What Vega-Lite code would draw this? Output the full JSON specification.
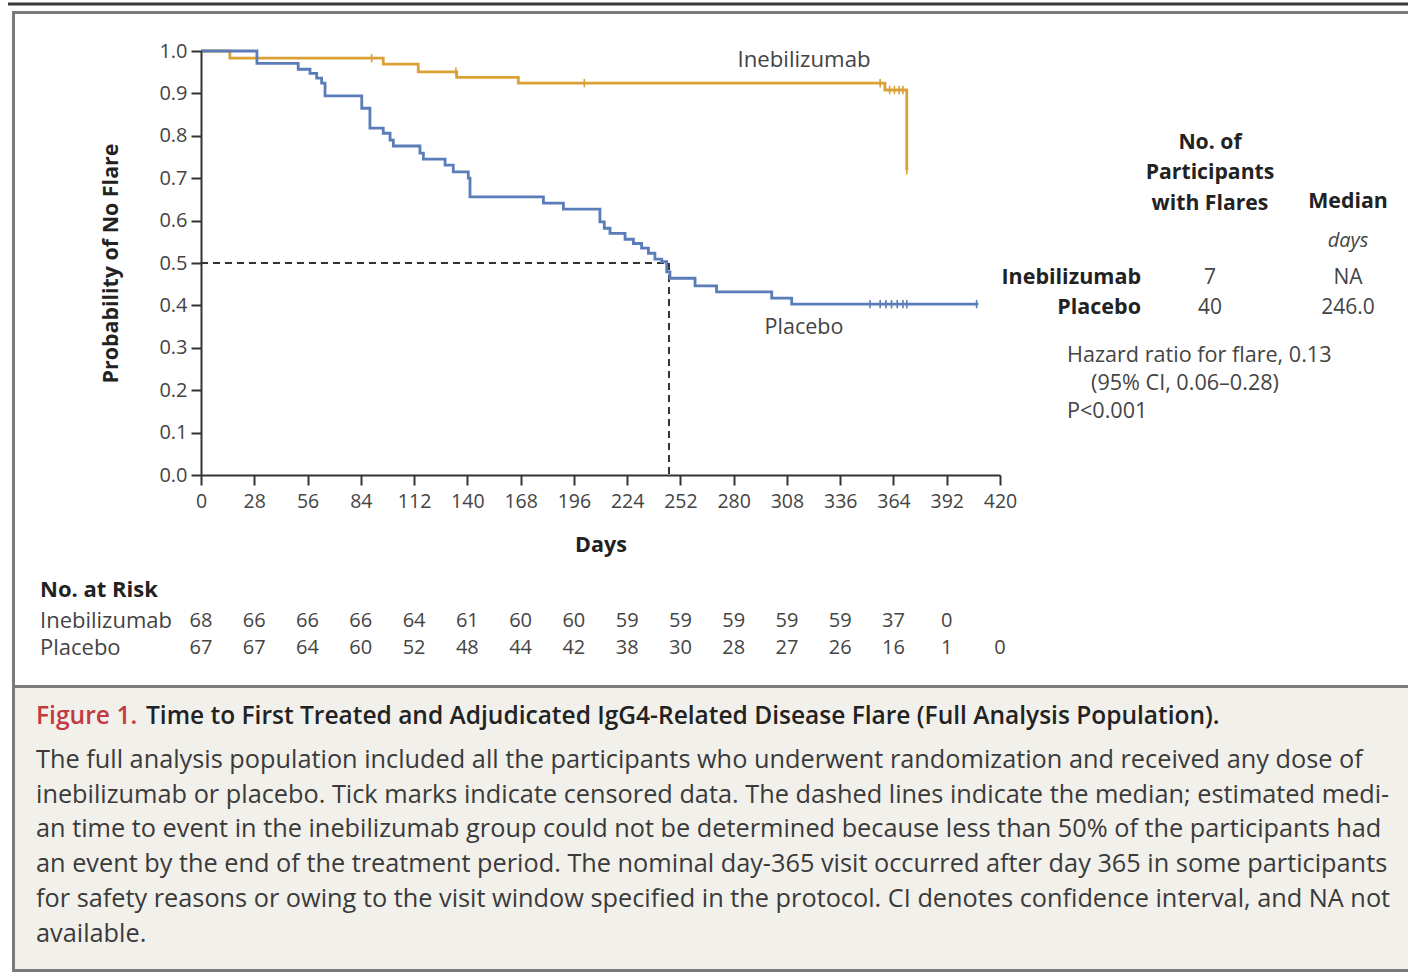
{
  "$schema": "https://vega.github.io/schema/vega-lite/v6.json",
  "width": 799,
  "height": 424,
  "autosize": {"type": "none"},
  "padding": {"left": 201, "top": 51, "right": 408, "bottom": 499},
  "background": "white",
  "config": {
    "view": {"stroke": null},
    "font": "Open Sans",
    "text": {"font": "Open Sans"}
  },
  "resolve": {"axis": {"x": "independent", "y": "independent"}},
  "datasets": {
    "km": [
      {"group": "Inebilizumab", "day": 0, "surv": 1.0},
      {"group": "Inebilizumab", "day": 15.2, "surv": 0.983},
      {"group": "Inebilizumab", "day": 95.8, "surv": 0.969},
      {"group": "Inebilizumab", "day": 114.2, "surv": 0.951},
      {"group": "Inebilizumab", "day": 134.4, "surv": 0.938},
      {"group": "Inebilizumab", "day": 166.8, "surv": 0.924},
      {"group": "Inebilizumab", "day": 359.5, "surv": 0.908},
      {"group": "Inebilizumab", "day": 371, "surv": 0.719},
      {"group": "Placebo", "day": 0, "surv": 1.0},
      {"group": "Placebo", "day": 29.4, "surv": 0.971},
      {"group": "Placebo", "day": 51.1, "surv": 0.957},
      {"group": "Placebo", "day": 57.3, "surv": 0.947},
      {"group": "Placebo", "day": 60.8, "surv": 0.936},
      {"group": "Placebo", "day": 63.4, "surv": 0.924},
      {"group": "Placebo", "day": 65.2, "surv": 0.894},
      {"group": "Placebo", "day": 84.5, "surv": 0.865},
      {"group": "Placebo", "day": 88.8, "surv": 0.818},
      {"group": "Placebo", "day": 95.8, "surv": 0.806},
      {"group": "Placebo", "day": 99.4, "surv": 0.79},
      {"group": "Placebo", "day": 101.1, "surv": 0.776},
      {"group": "Placebo", "day": 115.1, "surv": 0.759},
      {"group": "Placebo", "day": 116.9, "surv": 0.745},
      {"group": "Placebo", "day": 128.3, "surv": 0.731},
      {"group": "Placebo", "day": 132.6, "surv": 0.715},
      {"group": "Placebo", "day": 140.5, "surv": 0.7},
      {"group": "Placebo", "day": 141.4, "surv": 0.656},
      {"group": "Placebo", "day": 180, "surv": 0.641},
      {"group": "Placebo", "day": 190.5, "surv": 0.627},
      {"group": "Placebo", "day": 209.7, "surv": 0.597},
      {"group": "Placebo", "day": 212, "surv": 0.582},
      {"group": "Placebo", "day": 215, "surv": 0.57},
      {"group": "Placebo", "day": 222.9, "surv": 0.556},
      {"group": "Placebo", "day": 227.3, "surv": 0.546},
      {"group": "Placebo", "day": 231.6, "surv": 0.535},
      {"group": "Placebo", "day": 235.2, "surv": 0.523},
      {"group": "Placebo", "day": 238.6, "surv": 0.509},
      {"group": "Placebo", "day": 242.2, "surv": 0.503},
      {"group": "Placebo", "day": 244.8, "surv": 0.479},
      {"group": "Placebo", "day": 246.5, "surv": 0.464},
      {"group": "Placebo", "day": 259.7, "surv": 0.446},
      {"group": "Placebo", "day": 271, "surv": 0.432},
      {"group": "Placebo", "day": 300, "surv": 0.417},
      {"group": "Placebo", "day": 310.5, "surv": 0.403},
      {"group": "Placebo", "day": 408.6, "surv": 0.403}
    ],
    "censor": [
      {"group": "Inebilizumab", "day": 89.7, "surv": 0.983},
      {"group": "Inebilizumab", "day": 134, "surv": 0.951},
      {"group": "Inebilizumab", "day": 201.5, "surv": 0.924},
      {"group": "Inebilizumab", "day": 357, "surv": 0.924},
      {"group": "Inebilizumab", "day": 362, "surv": 0.908},
      {"group": "Inebilizumab", "day": 364.5, "surv": 0.908},
      {"group": "Inebilizumab", "day": 367, "surv": 0.908},
      {"group": "Inebilizumab", "day": 369, "surv": 0.908},
      {"group": "Inebilizumab", "day": 371, "surv": 0.719},
      {"group": "Placebo", "day": 351.7, "surv": 0.403},
      {"group": "Placebo", "day": 357, "surv": 0.403},
      {"group": "Placebo", "day": 360, "surv": 0.403},
      {"group": "Placebo", "day": 363, "surv": 0.403},
      {"group": "Placebo", "day": 366, "surv": 0.403},
      {"group": "Placebo", "day": 369, "surv": 0.403},
      {"group": "Placebo", "day": 371, "surv": 0.403},
      {"group": "Placebo", "day": 407.7, "surv": 0.403}
    ],
    "risk": [
      {"group": "Inebilizumab", "day": 0, "n": 68},
      {"group": "Inebilizumab", "day": 28, "n": 66},
      {"group": "Inebilizumab", "day": 56, "n": 66},
      {"group": "Inebilizumab", "day": 84, "n": 66},
      {"group": "Inebilizumab", "day": 112, "n": 64},
      {"group": "Inebilizumab", "day": 140, "n": 61},
      {"group": "Inebilizumab", "day": 168, "n": 60},
      {"group": "Inebilizumab", "day": 196, "n": 60},
      {"group": "Inebilizumab", "day": 224, "n": 59},
      {"group": "Inebilizumab", "day": 252, "n": 59},
      {"group": "Inebilizumab", "day": 280, "n": 59},
      {"group": "Inebilizumab", "day": 308, "n": 59},
      {"group": "Inebilizumab", "day": 336, "n": 59},
      {"group": "Inebilizumab", "day": 364, "n": 37},
      {"group": "Inebilizumab", "day": 392, "n": 0},
      {"group": "Placebo", "day": 0, "n": 67},
      {"group": "Placebo", "day": 28, "n": 67},
      {"group": "Placebo", "day": 56, "n": 64},
      {"group": "Placebo", "day": 84, "n": 60},
      {"group": "Placebo", "day": 112, "n": 52},
      {"group": "Placebo", "day": 140, "n": 48},
      {"group": "Placebo", "day": 168, "n": 44},
      {"group": "Placebo", "day": 196, "n": 42},
      {"group": "Placebo", "day": 224, "n": 38},
      {"group": "Placebo", "day": 252, "n": 30},
      {"group": "Placebo", "day": 280, "n": 28},
      {"group": "Placebo", "day": 308, "n": 27},
      {"group": "Placebo", "day": 336, "n": 26},
      {"group": "Placebo", "day": 364, "n": 16},
      {"group": "Placebo", "day": 392, "n": 1},
      {"group": "Placebo", "day": 420, "n": 0}
    ],
    "stats": [
      {"group": "Inebilizumab", "flares": "7", "median": "NA"},
      {"group": "Placebo", "flares": "40", "median": "246.0"}
    ]
  },
  "layer": [
    {
      "data": {"name": "km"},
      "mark": {"type": "line", "interpolate": "step-after", "strokeWidth": 2.6, "opacity": 0},
      "encoding": {
        "x": {
          "field": "day", "type": "quantitative",
          "scale": {"domain": [0, 420], "nice": false, "zero": false},
          "axis": {
            "orient": "bottom",
            "values": [0, 28, 56, 84, 112, 140, 168, 196, 224, 252, 280, 308, 336, 364, 392, 420],
            "title": "Days", "grid": false, "zindex": 1,
            "domainColor": "#333333", "domainWidth": 2,
            "tickColor": "#333333", "tickWidth": 2, "tickSize": 10,
            "labelFont": "Open Sans", "labelFontSize": 19.5, "labelColor": "#444444", "labelPadding": 7,
            "labelFlush": false, "labelOverlap": false,
            "titleFont": "Open Sans", "titleFontSize": 21.5, "titleFontWeight": "bold", "titleColor": "#222222", "titlePadding": 24
          }
        },
        "y": {
          "field": "surv", "type": "quantitative",
          "scale": {"domain": [0, 1], "nice": false, "zero": false},
          "axis": {
            "orient": "left",
            "values": [0, 0.1, 0.2, 0.3, 0.4, 0.5, 0.6, 0.7, 0.8, 0.9, 1.0],
            "format": ".1f",
            "title": "Probability of No Flare", "grid": false, "zindex": 1,
            "domainColor": "#333333", "domainWidth": 2,
            "tickColor": "#333333", "tickWidth": 2, "tickSize": 10,
            "labelFont": "Open Sans", "labelFontSize": 20, "labelColor": "#444444", "labelPadding": 4,
            "labelFlush": false, "labelOverlap": false,
            "titleFont": "Open Sans", "titleFontSize": 21.4, "titleFontWeight": "bold", "titleColor": "#222222", "titlePadding": 37
          }
        },
        "color": {
          "field": "group", "type": "nominal",
          "scale": {"domain": ["Inebilizumab", "Placebo"], "range": ["#d9a136", "#5a7cb8"]},
          "legend": null
        }
      }
    },
    {
      "data": {"values": [{}]},
      "mark": {"type": "rect", "fill": "#f2f0eb"},
      "encoding": {
        "x": {"datum": -98.56, "type": "quantitative", "scale": {"domain": [0, 420], "nice": false, "zero": false}, "axis": null},
        "x2": {"datum": 640.8},
        "y": {"datum": -0.4988, "type": "quantitative", "scale": {"domain": [0, 1], "nice": false, "zero": false}, "axis": null},
        "y2": {"datum": -1.1686}
      }
    },
    {
      "data": {"values": [{}]},
      "mark": {"type": "rect", "filled": false, "stroke": "#7a7a7a", "strokeWidth": 3},
      "encoding": {
        "x": {"datum": -98.56, "type": "quantitative", "scale": {"domain": [0, 420], "nice": false, "zero": false}, "axis": null},
        "x2": {"datum": 640.8},
        "y": {"datum": 1.0908, "type": "quantitative", "scale": {"domain": [0, 1], "nice": false, "zero": false}, "axis": null},
        "y2": {"datum": -1.1686}
      }
    },
    {
      "data": {"values": [{}]},
      "mark": {"type": "rule", "stroke": "#7a7a7a", "strokeWidth": 3},
      "encoding": {
        "x": {"datum": -98.56, "type": "quantitative", "scale": {"domain": [0, 420], "nice": false, "zero": false}, "axis": null},
        "x2": {"datum": 640.8},
        "y": {"datum": -0.4988, "type": "quantitative", "scale": {"domain": [0, 1], "nice": false, "zero": false}, "axis": null}
      }
    },
    {
      "data": {"values": [{}]},
      "mark": {"type": "rule", "stroke": "#3a3a3a", "strokeWidth": 3},
      "encoding": {
        "x": {"datum": -101.45, "type": "quantitative", "scale": {"domain": [0, 420], "nice": false, "zero": false}, "axis": null},
        "x2": {"datum": 640.8},
        "y": {"datum": 1.1108, "type": "quantitative", "scale": {"domain": [0, 1], "nice": false, "zero": false}, "axis": null}
      }
    },
    {
      "data": {"values": [{}]},
      "mark": {"type": "rule", "stroke": "#333333", "strokeWidth": 2, "strokeDash": [7, 5]},
      "encoding": {
        "x": {"datum": 0, "type": "quantitative", "scale": {"domain": [0, 420], "nice": false, "zero": false}, "axis": null},
        "x2": {"datum": 246},
        "y": {"datum": 0.5, "type": "quantitative", "scale": {"domain": [0, 1], "nice": false, "zero": false}, "axis": null}
      }
    },
    {
      "data": {"values": [{}]},
      "mark": {"type": "rule", "stroke": "#333333", "strokeWidth": 2, "strokeDash": [7, 5]},
      "encoding": {
        "x": {"datum": 246, "type": "quantitative", "scale": {"domain": [0, 420], "nice": false, "zero": false}, "axis": null},
        "y": {"datum": 0.5, "type": "quantitative", "scale": {"domain": [0, 1], "nice": false, "zero": false}, "axis": null},
        "y2": {"datum": 0}
      }
    },
    {
      "data": {"name": "km"},
      "mark": {"type": "line", "interpolate": "step-after", "strokeWidth": 2.8},
      "encoding": {
        "x": {"field": "day", "type": "quantitative", "scale": {"domain": [0, 420], "nice": false, "zero": false}, "axis": null},
        "y": {"field": "surv", "type": "quantitative", "scale": {"domain": [0, 1], "nice": false, "zero": false}, "axis": null},
        "color": {"field": "group", "type": "nominal", "legend": null}
      }
    },
    {
      "data": {"name": "censor"},
      "mark": {"type": "point", "shape": "M0,-1L0,1", "size": 70, "filled": false, "strokeWidth": 1.6, "opacity": 1},
      "encoding": {
        "x": {"field": "day", "type": "quantitative", "scale": {"domain": [0, 420], "nice": false, "zero": false}, "axis": null},
        "y": {"field": "surv", "type": "quantitative", "scale": {"domain": [0, 1], "nice": false, "zero": false}, "axis": null},
        "color": {"field": "group", "type": "nominal", "legend": null}
      }
    },
    {
      "data": {"values": [{}]},
      "mark": {"type": "text", "text": "Inebilizumab", "fontSize": 22.2, "color": "#444444", "align": "center", "baseline": "middle"},
      "encoding": {
        "x": {"datum": 316.97, "type": "quantitative", "scale": {"domain": [0, 420], "nice": false, "zero": false}, "axis": null},
        "y": {"datum": 0.97877, "type": "quantitative", "scale": {"domain": [0, 1], "nice": false, "zero": false}, "axis": null}
      }
    },
    {
      "data": {"values": [{}]},
      "mark": {"type": "text", "text": "Placebo", "fontSize": 21.5, "color": "#444444", "align": "center", "baseline": "middle"},
      "encoding": {
        "x": {"datum": 316.97, "type": "quantitative", "scale": {"domain": [0, 420], "nice": false, "zero": false}, "axis": null},
        "y": {"datum": 0.3467, "type": "quantitative", "scale": {"domain": [0, 1], "nice": false, "zero": false}, "axis": null}
      }
    },
    {
      "data": {"values": [{}]},
      "mark": {"type": "text", "text": "No. at Risk", "fontSize": 22, "fontWeight": "bold", "color": "#222222", "align": "left", "baseline": "middle"},
      "encoding": {
        "x": {"datum": -84.63, "type": "quantitative", "scale": {"domain": [0, 420], "nice": false, "zero": false}, "axis": null},
        "y": {"datum": -0.27123, "type": "quantitative", "scale": {"domain": [0, 1], "nice": false, "zero": false}, "axis": null}
      }
    },
    {
      "data": {"values": [{}]},
      "mark": {"type": "text", "text": "Inebilizumab", "fontSize": 22, "color": "#444444", "align": "left", "baseline": "middle"},
      "encoding": {
        "x": {"datum": -84.63, "type": "quantitative", "scale": {"domain": [0, 420], "nice": false, "zero": false}, "axis": null},
        "y": {"datum": -0.34434, "type": "quantitative", "scale": {"domain": [0, 1], "nice": false, "zero": false}, "axis": null}
      }
    },
    {
      "data": {"values": [{}]},
      "mark": {"type": "text", "text": "Placebo", "fontSize": 22, "color": "#444444", "align": "left", "baseline": "middle"},
      "encoding": {
        "x": {"datum": -84.63, "type": "quantitative", "scale": {"domain": [0, 420], "nice": false, "zero": false}, "axis": null},
        "y": {"datum": -0.40802, "type": "quantitative", "scale": {"domain": [0, 1], "nice": false, "zero": false}, "axis": null}
      }
    },
    {
      "data": {"name": "risk"},
      "transform": [{"filter": "datum.group === 'Inebilizumab'"}],
      "mark": {"type": "text", "fontSize": 20, "color": "#444444", "align": "center", "baseline": "middle"},
      "encoding": {
        "x": {"field": "day", "type": "quantitative", "scale": {"domain": [0, 420], "nice": false, "zero": false}, "axis": null},
        "y": {"datum": -0.34434, "type": "quantitative", "scale": {"domain": [0, 1], "nice": false, "zero": false}, "axis": null},
        "text": {"field": "n", "type": "quantitative"}
      }
    },
    {
      "data": {"name": "risk"},
      "transform": [{"filter": "datum.group === 'Placebo'"}],
      "mark": {"type": "text", "fontSize": 20, "color": "#444444", "align": "center", "baseline": "middle"},
      "encoding": {
        "x": {"field": "day", "type": "quantitative", "scale": {"domain": [0, 420], "nice": false, "zero": false}, "axis": null},
        "y": {"datum": -0.40802, "type": "quantitative", "scale": {"domain": [0, 1], "nice": false, "zero": false}, "axis": null},
        "text": {"field": "n", "type": "quantitative"}
      }
    },
    {
      "data": {"values": [{}]},
      "mark": {"type": "text", "text": ["No. of", "Participants", "with Flares"], "lineHeight": 30.5, "fontSize": 21.2, "fontWeight": "bold", "color": "#222222", "align": "center", "baseline": "top"},
      "encoding": {
        "x": {"datum": 530.39, "type": "quantitative", "scale": {"domain": [0, 420], "nice": false, "zero": false}, "axis": null},
        "y": {"datum": 0.8090, "type": "quantitative", "scale": {"domain": [0, 1], "nice": false, "zero": false}, "axis": null}
      }
    },
    {
      "data": {"values": [{}]},
      "mark": {"type": "text", "text": "Median", "fontSize": 21.3, "fontWeight": "bold", "color": "#222222", "align": "center", "baseline": "middle"},
      "encoding": {
        "x": {"datum": 602.94, "type": "quantitative", "scale": {"domain": [0, 420], "nice": false, "zero": false}, "axis": null},
        "y": {"datum": 0.64387, "type": "quantitative", "scale": {"domain": [0, 1], "nice": false, "zero": false}, "axis": null}
      }
    },
    {
      "data": {"values": [{}]},
      "mark": {"type": "text", "text": "days", "fontSize": 20, "fontStyle": "italic", "color": "#444444", "align": "center", "baseline": "middle"},
      "encoding": {
        "x": {"datum": 602.94, "type": "quantitative", "scale": {"domain": [0, 420], "nice": false, "zero": false}, "axis": null},
        "y": {"datum": 0.55189, "type": "quantitative", "scale": {"domain": [0, 1], "nice": false, "zero": false}, "axis": null}
      }
    },
    {
      "data": {"name": "stats"},
      "transform": [{"filter": "datum.group === 'Inebilizumab'"}],
      "mark": {"type": "text", "fontSize": 21.5, "fontWeight": "bold", "color": "#222222", "align": "right", "baseline": "middle"},
      "encoding": {
        "x": {"datum": 494.12, "type": "quantitative", "scale": {"domain": [0, 420], "nice": false, "zero": false}, "axis": null},
        "y": {"datum": 0.46462, "type": "quantitative", "scale": {"domain": [0, 1], "nice": false, "zero": false}, "axis": null},
        "text": {"field": "group", "type": "nominal"}
      }
    },
    {
      "data": {"name": "stats"},
      "transform": [{"filter": "datum.group === 'Placebo'"}],
      "mark": {"type": "text", "fontSize": 21.5, "fontWeight": "bold", "color": "#222222", "align": "right", "baseline": "middle"},
      "encoding": {
        "x": {"datum": 494.12, "type": "quantitative", "scale": {"domain": [0, 420], "nice": false, "zero": false}, "axis": null},
        "y": {"datum": 0.39387, "type": "quantitative", "scale": {"domain": [0, 1], "nice": false, "zero": false}, "axis": null},
        "text": {"field": "group", "type": "nominal"}
      }
    },
    {
      "data": {"name": "stats"},
      "transform": [{"filter": "datum.group === 'Inebilizumab'"}],
      "mark": {"type": "text", "fontSize": 21, "color": "#444444", "align": "center", "baseline": "middle"},
      "encoding": {
        "x": {"datum": 530.39, "type": "quantitative", "scale": {"domain": [0, 420], "nice": false, "zero": false}, "axis": null},
        "y": {"datum": 0.46462, "type": "quantitative", "scale": {"domain": [0, 1], "nice": false, "zero": false}, "axis": null},
        "text": {"field": "flares", "type": "nominal"}
      }
    },
    {
      "data": {"name": "stats"},
      "transform": [{"filter": "datum.group === 'Placebo'"}],
      "mark": {"type": "text", "fontSize": 21, "color": "#444444", "align": "center", "baseline": "middle"},
      "encoding": {
        "x": {"datum": 530.39, "type": "quantitative", "scale": {"domain": [0, 420], "nice": false, "zero": false}, "axis": null},
        "y": {"datum": 0.39387, "type": "quantitative", "scale": {"domain": [0, 1], "nice": false, "zero": false}, "axis": null},
        "text": {"field": "flares", "type": "nominal"}
      }
    },
    {
      "data": {"name": "stats"},
      "transform": [{"filter": "datum.group === 'Inebilizumab'"}],
      "mark": {"type": "text", "fontSize": 21, "color": "#444444", "align": "center", "baseline": "middle"},
      "encoding": {
        "x": {"datum": 602.94, "type": "quantitative", "scale": {"domain": [0, 420], "nice": false, "zero": false}, "axis": null},
        "y": {"datum": 0.46462, "type": "quantitative", "scale": {"domain": [0, 1], "nice": false, "zero": false}, "axis": null},
        "text": {"field": "median", "type": "nominal"}
      }
    },
    {
      "data": {"name": "stats"},
      "transform": [{"filter": "datum.group === 'Placebo'"}],
      "mark": {"type": "text", "fontSize": 21, "color": "#444444", "align": "center", "baseline": "middle"},
      "encoding": {
        "x": {"datum": 602.94, "type": "quantitative", "scale": {"domain": [0, 420], "nice": false, "zero": false}, "axis": null},
        "y": {"datum": 0.39387, "type": "quantitative", "scale": {"domain": [0, 1], "nice": false, "zero": false}, "axis": null},
        "text": {"field": "median", "type": "nominal"}
      }
    },
    {
      "data": {"values": [{}]},
      "mark": {"type": "text", "text": "Hazard ratio for flare, 0.13", "fontSize": 21.6, "color": "#444444", "align": "left", "baseline": "middle"},
      "encoding": {
        "x": {"datum": 455.22, "type": "quantitative", "scale": {"domain": [0, 420], "nice": false, "zero": false}, "axis": null},
        "y": {"datum": 0.28066, "type": "quantitative", "scale": {"domain": [0, 1], "nice": false, "zero": false}, "axis": null}
      }
    },
    {
      "data": {"values": [{}]},
      "mark": {"type": "text", "text": "(95% CI, 0.06\u20130.28)", "fontSize": 21.6, "color": "#444444", "align": "left", "baseline": "middle"},
      "encoding": {
        "x": {"datum": 467.84, "type": "quantitative", "scale": {"domain": [0, 420], "nice": false, "zero": false}, "axis": null},
        "y": {"datum": 0.21462, "type": "quantitative", "scale": {"domain": [0, 1], "nice": false, "zero": false}, "axis": null}
      }
    },
    {
      "data": {"values": [{}]},
      "mark": {"type": "text", "text": "P<0.001", "fontSize": 21.6, "color": "#444444", "align": "left", "baseline": "middle"},
      "encoding": {
        "x": {"datum": 455.22, "type": "quantitative", "scale": {"domain": [0, 420], "nice": false, "zero": false}, "axis": null},
        "y": {"datum": 0.14858, "type": "quantitative", "scale": {"domain": [0, 1], "nice": false, "zero": false}, "axis": null}
      }
    },
    {
      "data": {"values": [{}]},
      "mark": {"type": "text", "text": "Figure 1.", "fontSize": 24.6, "fontWeight": 600, "color": "#c23a3f", "align": "left", "baseline": "middle"},
      "encoding": {
        "x": {"datum": -86.73, "type": "quantitative", "scale": {"domain": [0, 420], "nice": false, "zero": false}, "axis": null},
        "y": {"datum": -0.57075, "type": "quantitative", "scale": {"domain": [0, 1], "nice": false, "zero": false}, "axis": null}
      }
    },
    {
      "data": {"values": [{}]},
      "mark": {"type": "text", "text": "Time to First Treated and Adjudicated IgG4-Related Disease Flare (Full Analysis Population).", "fontSize": 24.5, "fontWeight": 600, "color": "#222222", "align": "left", "baseline": "middle"},
      "encoding": {
        "x": {"datum": -28.91, "type": "quantitative", "scale": {"domain": [0, 420], "nice": false, "zero": false}, "axis": null},
        "y": {"datum": -0.57075, "type": "quantitative", "scale": {"domain": [0, 1], "nice": false, "zero": false}, "axis": null}
      }
    },
    {
      "data": {"values": [{}]},
      "mark": {
        "type": "text",
        "text": [
          "The full analysis population included all the participants who underwent randomization and received any dose of",
          "inebilizumab or placebo. Tick marks indicate censored data. The dashed lines indicate the median; estimated medi-",
          "an time to event in the inebilizumab group could not be determined because less than 50% of the participants had",
          "an event by the end of the treatment period. The nominal day-365 visit occurred after day 365 in some participants",
          "for safety reasons or owing to the visit window specified in the protocol. CI denotes confidence interval, and NA not",
          "available."
        ],
        "lineHeight": 34.8, "fontSize": 25.3, "color": "#3a3a3a", "align": "left", "baseline": "top"
      },
      "encoding": {
        "x": {"datum": -86.73, "type": "quantitative", "scale": {"domain": [0, 420], "nice": false, "zero": false}, "axis": null},
        "y": {"datum": -0.6435, "type": "quantitative", "scale": {"domain": [0, 1], "nice": false, "zero": false}, "axis": null}
      }
    }
  ]
}
